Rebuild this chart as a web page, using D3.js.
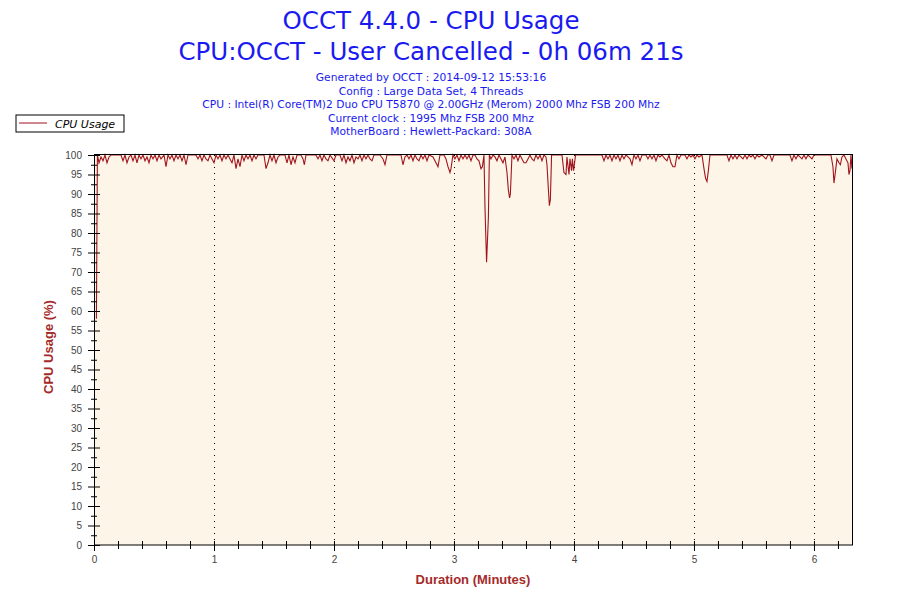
<!DOCTYPE html>
<html>
<head>
<meta charset="utf-8">
<script src="https://cdn.jsdelivr.net/npm/d3@7"></script>
<style>
  body { margin: 0; background: #fff; }
  svg { display: block; }
</style>
</head>
<body>
<div id="chart"></div>
<script>
// ---- data ----
const titleLines = ["OCCT 4.4.0 - CPU Usage", "CPU:OCCT - User Cancelled - 0h 06m 21s"];
const infoLines = [
  "Generated by OCCT : 2014-09-12 15:53:16",
  "Config : Large Data Set, 4 Threads",
  "CPU : Intel(R) Core(TM)2 Duo CPU T5870 @ 2.00GHz (Merom) 2000 Mhz FSB 200 Mhz",
  "Current clock : 1995 Mhz FSB 200 Mhz",
  "MotherBoard : Hewlett-Packard: 308A"
];
const seriesName = "CPU Usage";
const xLabel = "Duration (Minutes)";
const yLabel = "CPU Usage (%)";
const xTicks = [0, 1, 2, 3, 4, 5, 6];
const yTicks = [0, 5, 10, 15, 20, 25, 30, 35, 40, 45, 50, 55, 60, 65, 70, 75, 80, 85, 90, 95, 100];
const durationMin = 6.317;

// [seconds, cpu %]
const samples = [
  [1.2, 58], [1.7, 100], [2.5, 98], [3.5, 99.5], [4.5, 98.5], [5.5, 100], [6.5, 98],
  [7.5, 99.5], [8.5, 100], [13.5, 100], [14.5, 98.5], [15.5, 100], [16.5, 98], [17.5, 99.5],
  [18.5, 100], [19.5, 98.5], [20.5, 100], [21.5, 98], [22.5, 100], [23.5, 99], [24.5, 100],
  [25.5, 98.5], [26.5, 99.5], [27.5, 98], [28.5, 100], [29.5, 99], [30.5, 100], [31.5, 98.5],
  [32.5, 100], [33.5, 99], [35, 100], [36, 97], [37, 100], [38, 99], [39, 100], [40, 98.5],
  [41, 100], [42, 99], [43, 100], [44, 98.5], [45, 100], [46, 97.5], [47, 100], [51, 100],
  [52, 99], [53, 100], [54, 98.5], [55, 100], [56, 99], [57, 98.5], [58, 100], [59, 99],
  [60, 98], [61, 100], [62, 99], [63, 100], [64, 98.5], [65, 100], [66, 99], [67, 100],
  [68, 99], [69, 98], [70, 100], [71, 96.5], [72, 99], [73, 97], [74, 100], [75, 98.5],
  [76, 100], [77, 99], [78, 100], [79, 98.5], [80, 100], [81, 99], [82, 100], [85, 100],
  [86, 96.5], [87, 98], [88, 100], [89, 98.5], [90, 100], [91, 98], [92, 99.5], [93, 100],
  [95.5, 100], [96.5, 98], [97.5, 100], [98.5, 97.5], [99.5, 99.5], [100.5, 98], [101.5, 100],
  [103.5, 100], [104.5, 99], [105.2, 97.5], [106, 100], [111, 100], [112, 99], [113, 100],
  [114, 98.5], [115, 100], [116, 99], [117, 98.5], [118, 100], [120, 98.5], [121, 100],
  [123, 100], [124, 98.5], [125, 100], [126, 98], [127, 99.5], [128, 98.5], [129, 100],
  [130, 98], [131, 99.5], [132, 99], [133, 100], [134, 98.5], [135, 100], [136, 99],
  [137, 100], [138, 99], [139, 98.5], [140, 100], [143, 100], [144.5, 99], [145.5, 97.5],
  [146.5, 100], [153.5, 100], [154.5, 97.5], [155.5, 99.5], [156.5, 100], [157.5, 99],
  [158.5, 100], [159.5, 98.5], [160.5, 100], [161.5, 99], [162.5, 98.5], [163.5, 100],
  [164.5, 99], [165.5, 100], [166.5, 98.5], [167.5, 100], [169.5, 99.5], [171, 98], [172, 97],
  [173, 100], [175, 100], [176, 99], [177, 97], [178, 95.5], [178.5, 96.5], [179.5, 100],
  [180.5, 99], [181.5, 100], [182.5, 98.5], [183.5, 100], [184.5, 99], [185.5, 100],
  [186.5, 99], [187.5, 100], [188.5, 98.5], [189.5, 100], [190.5, 100], [191.5, 99],
  [192.5, 98.5], [193.5, 96.5], [194.2, 97], [195, 100], [195.5, 86.6], [196.3, 72.5],
  [197.2, 84], [197.7, 100], [198.5, 99], [199.5, 100], [200.5, 99.5], [201.5, 98.5],
  [202.5, 100], [203.5, 99], [204.5, 98], [205.5, 99.5], [206.5, 95.5], [207.2, 91],
  [207.8, 89], [208.2, 90], [209, 100], [210, 99], [211, 100], [212, 98.5], [213, 100],
  [214, 99], [215, 98], [216, 98], [217, 99], [218, 100], [219, 99], [220, 98.5], [221, 100],
  [222, 99], [223, 100], [224, 98.5], [225, 100], [226, 99.5], [226.5, 97.5], [227.2, 91.3],
  [227.7, 87], [228.2, 88.6], [228.8, 100], [234, 100], [235, 95.5], [236, 95], [236.5, 99.5],
  [237.5, 95], [238, 99], [238.8, 96], [239.2, 99], [239.8, 96], [240.8, 100], [254, 100],
  [255, 98.5], [256, 100], [257, 99], [258, 100], [259, 98.5], [260, 100], [261, 99],
  [262, 100], [263, 98.5], [264, 100], [265, 99], [266, 100], [267, 99.5], [268, 99],
  [269, 97.5], [270, 100], [271, 99], [272, 100], [273, 98.5], [274, 100], [276, 100],
  [277, 99], [278, 100], [279, 99], [280, 100], [281, 98.5], [282, 100], [283, 99.5],
  [284, 100], [285.5, 99], [286.5, 98.5], [287.5, 100], [288.5, 98], [289.5, 97], [290.5, 97],
  [291.5, 100], [292.5, 99], [293.5, 100], [295.5, 100], [296.5, 99], [297.5, 100],
  [298.5, 99.5], [299.5, 100], [300.5, 99], [301.5, 100], [302.5, 99.5], [304, 100],
  [305, 96.5], [305.8, 94], [306.5, 93.2], [307.2, 96], [308, 100], [316.5, 100],
  [317.5, 98.5], [318.5, 100], [319.5, 99], [320.5, 100], [321.5, 99], [322.5, 100],
  [323.5, 99.5], [324.5, 99], [325.5, 100], [326.5, 99], [327.5, 100], [328.5, 99.5],
  [329.5, 100], [330.5, 99], [331.5, 100], [332.5, 99.5], [334, 100], [336, 99], [337, 100],
  [338, 100], [339, 98.5], [340, 100], [348, 100], [349, 98.5], [350, 100], [351, 99],
  [352, 100], [353, 99.5], [354, 99], [355, 100], [356, 99], [357, 100], [358, 99.5],
  [359, 99], [360, 100], [368.5, 100], [369.5, 97], [370, 92.8], [370.8, 96], [371.5, 99],
  [372.5, 98], [373.2, 97.5], [374, 99.5], [375, 100], [376, 99], [377, 98], [377.5, 95],
  [378, 96], [378.5, 100], [379, 96.5]
];

// ---- layout ----
var margin = { top: 155, right: 48, bottom: 55, left: 94 },
  width = 900 - margin.left - margin.right,
  height = 600 - margin.top - margin.bottom;

var svg = d3
  .select("#chart")
  .append("svg")
  .attr("width", 900)
  .attr("height", 600);

// titles
var titleColor = "#1a1af0";
svg
  .selectAll(".title")
  .data(titleLines)
  .enter()
  .append("text")
  .attr("class", "title")
  .attr("x", 431)
  .attr("y", (d, i) => 29 + i * 31)
  .attr("text-anchor", "middle")
  .style("font-family", "DejaVu Sans, Verdana, sans-serif")
  .style("font-size", "24.5px")
  .style("fill", titleColor)
  .text((d) => d);

svg
  .selectAll(".info")
  .data(infoLines)
  .enter()
  .append("text")
  .attr("class", "info")
  .attr("x", 431)
  .attr("y", (d, i) => 81 + i * 13.6)
  .attr("text-anchor", "middle")
  .style("font-family", "DejaVu Sans, Verdana, sans-serif")
  .style("font-size", "10.7px")
  .style("fill", titleColor)
  .text((d) => d);

// legend
var legend = svg.append("g").attr("transform", "translate(16,115)");
legend
  .append("rect")
  .attr("x", 0)
  .attr("y", 0)
  .attr("width", 108)
  .attr("height", 17)
  .style("fill", "#fff")
  .style("stroke", "#000");
legend
  .append("line")
  .attr("x1", 3)
  .attr("x2", 31)
  .attr("y1", 8)
  .attr("y2", 8)
  .style("stroke", "#a0141e")
  .style("stroke-width", 1);
legend
  .append("text")
  .attr("x", 39)
  .attr("y", 12.5)
  .style("font-family", "DejaVu Sans, Verdana, sans-serif")
  .style("font-size", "11px")
  .style("font-style", "italic")
  .text(seriesName);

var g = svg
  .append("g")
  .attr("transform", "translate(" + margin.left + "," + margin.top + ")");

var x = d3.scaleLinear().domain([0, durationMin]).range([0, width]);
var y = d3.scaleLinear().domain([0, 100]).range([height, 0]);

// plot background
g.append("rect")
  .attr("width", width)
  .attr("height", height)
  .style("fill", "#fdf6e8");

// dotted vertical grid
g.selectAll(".grid")
  .data(xTicks.filter((d) => d > 0))
  .enter()
  .append("line")
  .attr("class", "grid")
  .attr("x1", (d) => Math.round(x(d)) + 0.5)
  .attr("x2", (d) => Math.round(x(d)) + 0.5)
  .attr("y1", 0)
  .attr("y2", height)
  .style("stroke", "#000")
  .style("stroke-dasharray", "1,5");

// data line
var line = d3
  .line()
  .x((d) => x(d[0] / 60))
  .y((d) => y(d[1]));

g.append("path")
  .datum(samples)
  .attr("d", line)
  .style("fill", "none")
  .style("stroke", "#a0141e")
  .style("stroke-width", 1.1);

// frame
g.append("rect")
  .attr("x", 0.5)
  .attr("y", -0.5)
  .attr("width", width)
  .attr("height", height + 0.5)
  .style("fill", "none")
  .style("stroke", "#000");

var tickFont = function (sel) {
  sel
    .selectAll("text")
    .style("font-family", "Liberation Sans, Arial, sans-serif")
    .style("font-size", "10px")
    .style("fill", "#444");
  sel.select(".domain").remove();
};

// y axis: major ticks crossing the axis, minor ticks between
g.append("g")
  .call(d3.axisLeft(y).tickValues(yTicks).tickSize(6).tickPadding(6))
  .call(tickFont);
g.append("g")
  .call(d3.axisRight(y).tickValues(yTicks).tickSize(6).tickFormat(""))
  .call(tickFont);
g.append("g")
  .attr("transform", "translate(3,0)")
  .call(
    d3.axisLeft(y)
      .tickValues(yTicks.slice(1).map((d) => d - 2.5))
      .tickSize(6)
      .tickFormat("")
  )
  .call(tickFont);

// x axis
g.append("g")
  .attr("transform", "translate(0," + height + ")")
  .call(d3.axisBottom(x).tickValues(xTicks).tickSize(6).tickPadding(5).tickFormat(d3.format("d")))
  .call(tickFont);
g.append("g")
  .attr("transform", "translate(0," + height + ")")
  .call(d3.axisTop(x).tickValues(xTicks).tickSize(4).tickFormat(""))
  .call(tickFont);
function notWhole(d) {
  return Math.abs(d - Math.round(d)) > 0.01;
}
var minorX = d3.range(1, 32).map((i) => i / 5).filter((d) => notWhole(d) && d < durationMin);
g.append("g")
  .attr("transform", "translate(0," + (height + 4) + ")")
  .call(d3.axisTop(x).tickValues(minorX).tickSize(8).tickFormat(""))
  .call(tickFont);

g.selectAll(".tick line").style("stroke", "#000");

// axis labels
g.append("text")
  .attr("x", width / 2)
  .attr("y", height + 39)
  .attr("text-anchor", "middle")
  .style("font-family", "Liberation Sans, Arial, sans-serif")
  .style("font-weight", "bold")
  .style("font-size", "13px")
  .style("fill", "#a52a2a")
  .text(xLabel);

g.append("text")
  .attr("transform", "rotate(-90)")
  .attr("x", -height / 2 + 3)
  .attr("y", -41)
  .attr("text-anchor", "middle")
  .style("font-family", "Liberation Sans, Arial, sans-serif")
  .style("font-weight", "bold")
  .style("font-size", "13px")
  .style("fill", "#a52a2a")
  .text(yLabel);
</script>
</body>
</html>
